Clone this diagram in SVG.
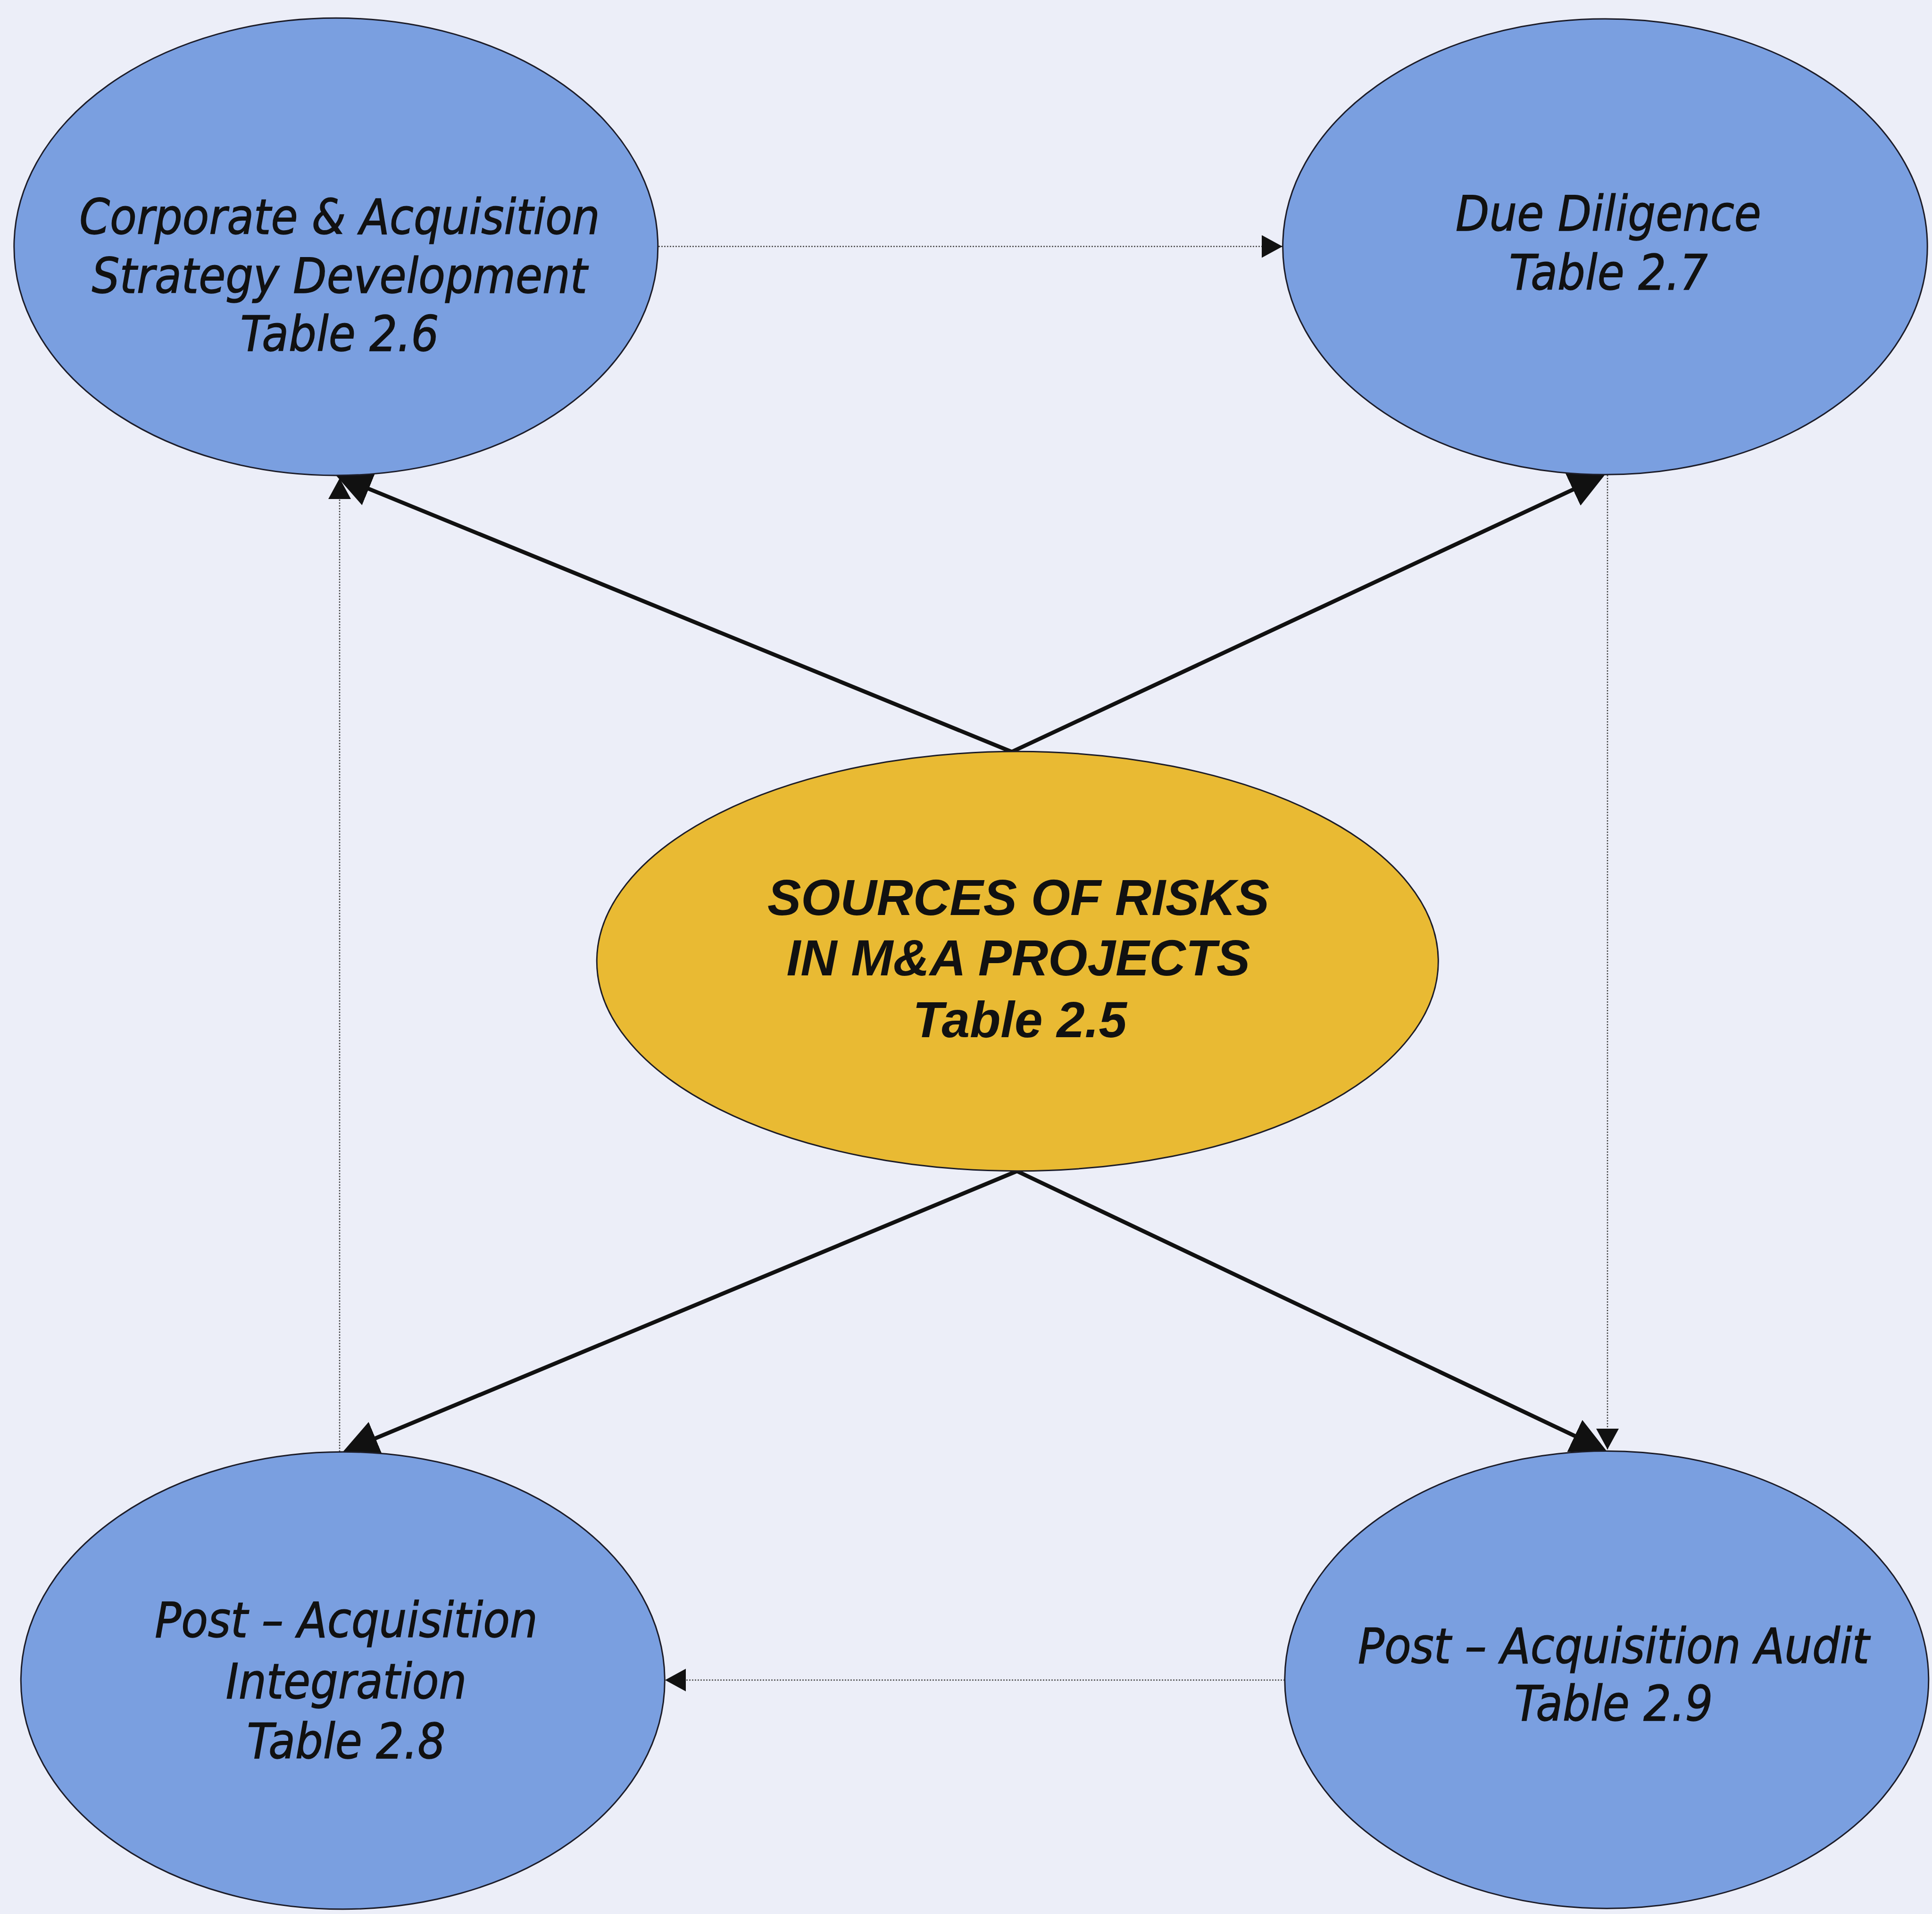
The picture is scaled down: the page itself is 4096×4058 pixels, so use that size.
<svg xmlns="http://www.w3.org/2000/svg" width="4096" height="4058" viewBox="0 0 4096 4058">
  <style>
    .bg { fill: #ECEEF8; }
    .phase { fill: #7A9FE0; stroke: #1c1c28; stroke-width: 3; }
    .core { fill: #E9BA33; stroke: #1c1c28; stroke-width: 3; }
    .lbl { font-family: "DejaVu Sans Condensed", "DejaVu Sans", sans-serif; font-stretch: condensed; font-style: italic; font-size: 103px; fill: #111; stroke: #111; stroke-width: 1.4; text-anchor: middle; }
    .core-lbl { font-family: "Liberation Sans", Arial, sans-serif; font-style: italic; font-weight: bold; font-size: 107px; fill: #111; text-anchor: middle; }
    .flow { stroke: #111; stroke-width: 8.5; fill: none; }
    .cycle { stroke: #4a4a4a; stroke-width: 2.6; stroke-dasharray: 3 3; fill: none; }
  </style>
  <defs>
    <marker id="headBig" markerUnits="userSpaceOnUse" markerWidth="75" markerHeight="75" refX="45" refY="37.5" orient="auto">
      <path d="M0,0 L75,37.5 L0,75 Z" fill="#111"/>
    </marker>
    <marker id="headSmall" markerUnits="userSpaceOnUse" markerWidth="44" markerHeight="48" refX="44" refY="24" orient="auto">
      <path d="M0,0 L44,24 L0,48 Z" fill="#111"/>
    </marker>
  </defs>

  <rect class="bg" x="0" y="0" width="4096" height="4058"/>

  <!-- connectors: drawn first so the ellipses sit over the arrow tips -->
  <g id="connectors">
    <!-- solid links from the central risk node to each phase -->
    <line class="flow" x1="2145" y1="1594" x2="740.1" y2="1019.3" marker-end="url(#headBig)"/>
    <line class="flow" x1="2145" y1="1594" x2="3375.7" y2="1018.9" marker-end="url(#headBig)"/>
    <line class="flow" x1="2156" y1="2483" x2="754.5" y2="3066.7" marker-end="url(#headBig)"/>
    <line class="flow" x1="2156" y1="2483" x2="3379.2" y2="3063.7" marker-end="url(#headBig)"/>
    <!-- dotted acquisition cycle -->
    <path class="cycle" d="M1396,522.5 H2719" marker-end="url(#headSmall)"/>
    <path class="cycle" d="M3408,1007 V3073" marker-end="url(#headSmall)"/>
    <path class="cycle" d="M2724,3562 H1410" marker-end="url(#headSmall)"/>
    <path class="cycle" d="M720,3078 V1014" marker-end="url(#headSmall)"/>
  </g>

  <g id="node-strategy">
    <ellipse class="phase" cx="712.3" cy="523.1" rx="682.5" ry="484.8"/>
    <text class="lbl" x="720" y="496">Corporate &amp; Acquisition</text>
    <text class="lbl" x="720" y="621">Strategy Development</text>
    <text class="lbl" x="720" y="744">Table 2.6</text>
  </g>

  <g id="node-due-diligence">
    <ellipse class="phase" cx="3402.9" cy="523.1" rx="683.3" ry="483.1"/>
    <text class="lbl" x="3410" y="489">Due Diligence</text>
    <text class="lbl" x="3410" y="614">Table 2.7</text>
  </g>

  <g id="node-sources">
    <ellipse class="core" cx="2157.3" cy="2038" rx="892" ry="444.7"/>
    <text class="core-lbl" x="2159" y="1940">SOURCES OF RISKS</text>
    <text class="core-lbl" x="2159" y="2068">IN M&amp;A PROJECTS</text>
    <text class="core-lbl" x="2162" y="2199">Table 2.5</text>
  </g>

  <g id="node-integration">
    <ellipse class="phase" cx="726.8" cy="3563" rx="682.5" ry="484.8"/>
    <text class="lbl" x="734" y="3471">Post – Acquisition</text>
    <text class="lbl" x="734" y="3601">Integration</text>
    <text class="lbl" x="734" y="3728">Table 2.8</text>
  </g>

  <g id="node-audit">
    <ellipse class="phase" cx="3406.3" cy="3561.4" rx="682.5" ry="484.8"/>
    <text class="lbl" x="3421" y="3526">Post – Acquisition Audit</text>
    <text class="lbl" x="3421" y="3648">Table 2.9</text>
  </g>
</svg>
